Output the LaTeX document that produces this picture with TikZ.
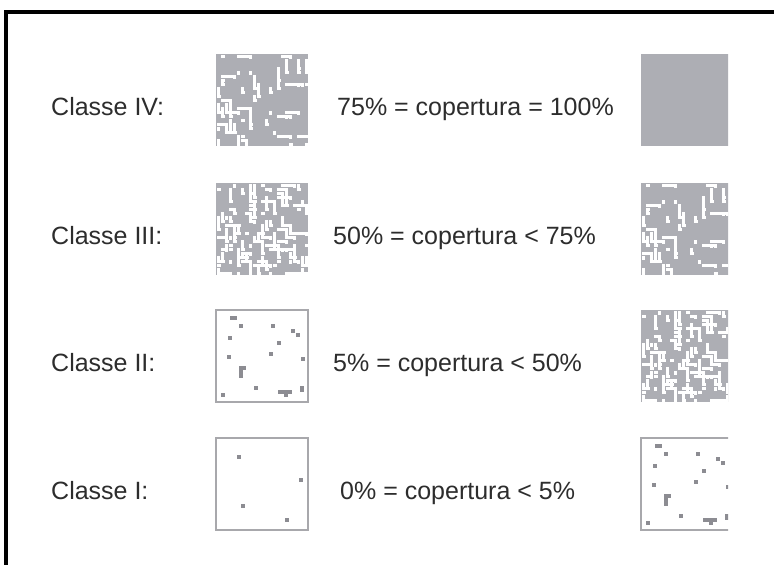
\documentclass[tikz,border=0pt]{standalone}
\usepackage{fontspec}
\setmainfont{Liberation Sans}
\definecolor{cover}{RGB}{173,174,180}
\definecolor{speck}{RGB}{140,140,146}
\definecolor{edge}{RGB}{168,168,172}
\definecolor{ink}{RGB}{45,45,45}
\tikzset{
  classlbl/.style={anchor=base west, inner sep=0pt, text=ink, font=\fontsize{25}{30}\selectfont},
  frameline/.style={line width=3.5pt, black},
  cellbox/.style={edge, line width=1.6pt},
}
\newcommand\fullcover{\fill[cover] (0,0) rectangle (92,92);}
\newcommand\mazecover[2]{%
  \fill[cover] (0,0) rectangle (92,92);
  \pgfmathsetseed{#1}
  \foreach \k in {1,...,#2}{
    \pgfmathtruncatemacro\cx{random(0,22)}
    \pgfmathtruncatemacro\cy{random(0,22)}
    \pgfmathtruncatemacro\len{random(1,4)}
    \pgfmathtruncatemacro\dir{random(0,1)}
    \ifnum\dir=0
      \fill[white] (4*\cx+0.5,4*\cy+0.5) rectangle ++(4*\len-0.5,3.5);
      \fill[white] (4*\cx+4*\len-3.5,4*\cy+0.5) rectangle ++(3.5,4);
    \else
      \fill[white] (4*\cx+0.5,4*\cy+0.5) rectangle ++(3.5,4*\len-0.5);
      \fill[white] (4*\cx+0.5,4*\cy+4*\len-3.5) rectangle ++(4,3.5);
    \fi}}
\newcommand\manyspecks{%
  \draw[cellbox] (0,0) rectangle (92,92);
  \foreach \a/\b/\w/\h in {14/6/7/3.5, 23/14/3.5/3.5, 55/14/3.5/3.5, 75/19/3.5/3.5,
      80/23/3.5/3.5, 12/26/3.5/3.5, 61/31/3.5/3.5, 53/42/3.5/3.5, 11/45/3.5/3.5,
      85/47/3.5/3.5, 23/56/3.5/12, 23/56/7/3.5, 38/76/3.5/3.5, 5/83/3.5/3.5,
      62/80/14/3.5, 68/83/3.5/4, 84/76/3.5/6}
    {\fill[speck] (\a,\b) rectangle ++(\w,\h);}}
\newcommand\fewspecks{%
  \draw[cellbox] (0,0) rectangle (92,92);
  \foreach \a/\b in {21/17, 83/40, 25/66, 69/80}
    {\fill[speck] (\a,\b) rectangle ++(4,4);}}
\newcommand\leftcell[2]{\begin{scope}[shift={(216,#1)}]
  \clip (-2,-2) rectangle (94,94); #2 \end{scope}}
\newcommand\rightcell[2]{\begin{scope}[shift={(641,#1)}]
  \clip (-2,-2) rectangle (87,94); #2 \end{scope}}

\begin{document}
\begin{tikzpicture}[x=1pt,y=-1pt]
\useasboundingbox (0,0) rectangle (774,565);
\fill[white] (0,0) rectangle (774,565);
\draw[frameline] (6,567) -- (6,12) -- (776,12);

\node[classlbl] (c4) at (51,115) {Classe IV:};
\node[classlbl] (c3) at (51,244) {Classe III:};
\node[classlbl] (c2) at (51,371) {Classe II:};
\node[classlbl] (c1) at (51,499) {Classe I:};

\node[classlbl] (r4) at (337,115) {75\% = copertura = 100\%};
\node[classlbl] (r3) at (333,244) {50\% = copertura < 75\%};
\node[classlbl] (r2) at (333,371) {5\% = copertura < 50\%};
\node[classlbl] (r1) at (340,499) {0\% = copertura < 5\%};

\leftcell{54}{\mazecover{17}{60}}
\leftcell{183}{\mazecover{29}{135}}
\leftcell{310}{\manyspecks}
\leftcell{438}{\fewspecks}

\rightcell{54}{\fullcover}
\rightcell{183}{\mazecover{17}{60}}
\rightcell{310}{\mazecover{29}{135}}
\rightcell{438}{\manyspecks}
\end{tikzpicture}
\end{document}
